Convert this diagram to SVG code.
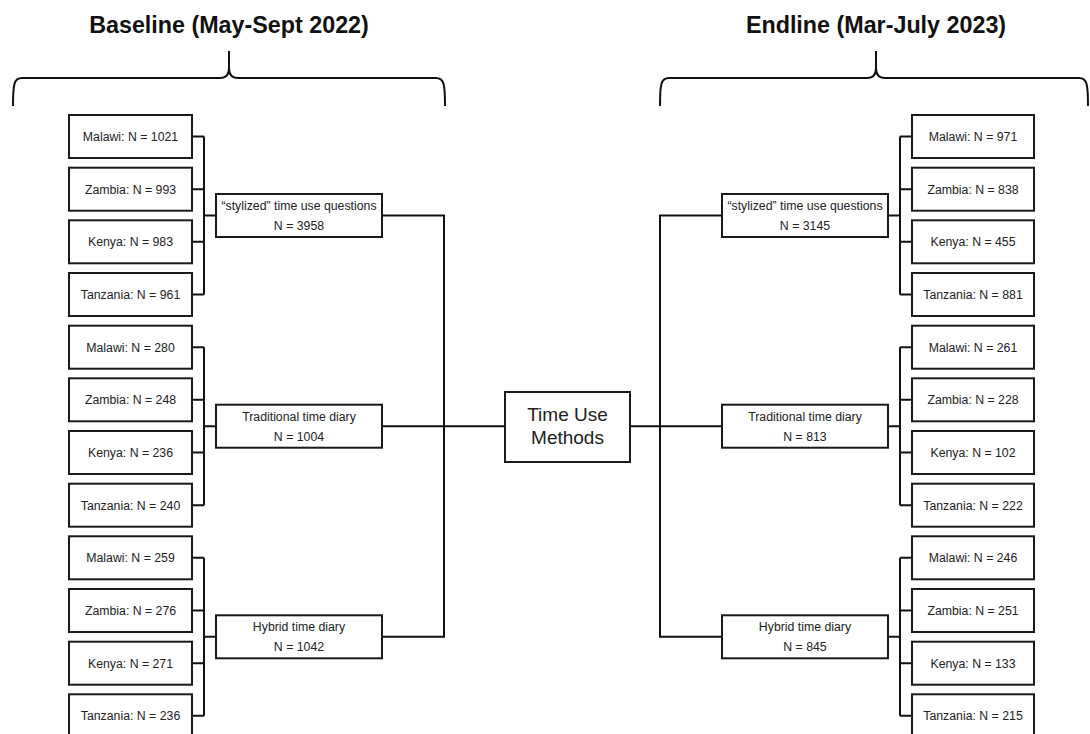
<svg xmlns="http://www.w3.org/2000/svg" width="1090" height="734" viewBox="0 0 1090 734">
<style>
.box{fill:#fff;stroke:#1a1a1a;stroke-width:2}
.ln{fill:none;stroke:#111;stroke-width:2}
.t{font-family:"Liberation Sans",Arial,sans-serif;font-size:12.3px;fill:#222;text-anchor:middle}
.c{font-family:"Liberation Sans",Arial,sans-serif;font-size:19px;fill:#222;text-anchor:middle}
.h{font-family:"Liberation Sans",Arial,sans-serif;font-size:23.3px;font-weight:bold;fill:#111;text-anchor:middle}
</style>
<rect width="1090" height="734" fill="#fff"/>
<g id="titles">
<text class="h" x="229" y="33">Baseline (May-Sept 2022)</text>
<text class="h" x="876" y="33">Endline (Mar-July 2023)</text>
<path class="ln" d="M13,106 C13,84 14,78 22,78 L220,78 C226,78 229,75 229,68 L229,51 M229,68 C229,75 232,78 238,78 L436,78 C444,78 445,84 445,106"/>
<path class="ln" d="M660,106 C660,84 661,78 669,78 L867,78 C873,78 876,75 876,68 L876,51 M876,68 C876,75 879,78 885,78 L1079,78 C1087,78 1088,84 1088,106"/>
</g>
<g id="connectors">
<path class="ln" d="M192,136.5 H204 M192,189.2 H204 M192,241.8 H204 M192,294.5 H204 M204,136.5 V294.5 M204,215.5 H216"/>
<path class="ln" d="M192,347.2 H204 M192,399.8 H204 M192,452.5 H204 M192,505.2 H204 M204,347.2 V505.2 M204,426.2 H216"/>
<path class="ln" d="M192,557.8 H204 M192,610.5 H204 M192,663.2 H204 M192,715.8 H204 M204,557.8 V715.8 M204,636.8 H216"/>
<path class="ln" d="M382,215.5 H444 V636.8 H382 M382,426.2 H505"/>
<path class="ln" d="M912,136.5 H900 M912,189.2 H900 M912,241.8 H900 M912,294.5 H900 M900,136.5 V294.5 M900,215.5 H888"/>
<path class="ln" d="M912,347.2 H900 M912,399.8 H900 M912,452.5 H900 M912,505.2 H900 M900,347.2 V505.2 M900,426.2 H888"/>
<path class="ln" d="M912,557.8 H900 M912,610.5 H900 M912,663.2 H900 M912,715.8 H900 M900,557.8 V715.8 M900,636.8 H888"/>
<path class="ln" d="M722,215.5 H660 V636.8 H722 M722,426.2 H630"/>
</g>
<g id="center"><rect class="box" x="505" y="392" width="125" height="70"/><text class="c" x="567.5" y="421">Time Use</text><text class="c" x="567.5" y="444">Methods</text></g>
<g id="b-stylized"><rect class="box" x="216" y="194" width="166" height="43"/><text class="t" x="299" y="210">“stylized” time use questions</text><text class="t" x="299" y="230">N = 3958</text></g>
<g id="b-traditional"><rect class="box" x="216" y="404.7" width="166" height="43"/><text class="t" x="299" y="420.7">Traditional time diary</text><text class="t" x="299" y="440.7">N = 1004</text></g>
<g id="b-hybrid"><rect class="box" x="216" y="615.3" width="166" height="43"/><text class="t" x="299" y="631.3">Hybrid time diary</text><text class="t" x="299" y="651.3">N = 1042</text></g>
<g id="e-stylized"><rect class="box" x="722" y="194" width="166" height="43"/><text class="t" x="805" y="210">“stylized” time use questions</text><text class="t" x="805" y="230">N = 3145</text></g>
<g id="e-traditional"><rect class="box" x="722" y="404.7" width="166" height="43"/><text class="t" x="805" y="420.7">Traditional time diary</text><text class="t" x="805" y="440.7">N = 813</text></g>
<g id="e-hybrid"><rect class="box" x="722" y="615.3" width="166" height="43"/><text class="t" x="805" y="631.3">Hybrid time diary</text><text class="t" x="805" y="651.3">N = 845</text></g>
<g id="b1"><rect class="box" x="69" y="115" width="123" height="43"/><text class="t" x="130.5" y="141">Malawi: N = 1021</text></g>
<g id="b2"><rect class="box" x="69" y="167.7" width="123" height="43"/><text class="t" x="130.5" y="193.7">Zambia: N = 993</text></g>
<g id="b3"><rect class="box" x="69" y="220.3" width="123" height="43"/><text class="t" x="130.5" y="246.3">Kenya: N = 983</text></g>
<g id="b4"><rect class="box" x="69" y="273" width="123" height="43"/><text class="t" x="130.5" y="299">Tanzania: N = 961</text></g>
<g id="b5"><rect class="box" x="69" y="325.7" width="123" height="43"/><text class="t" x="130.5" y="351.7">Malawi: N = 280</text></g>
<g id="b6"><rect class="box" x="69" y="378.3" width="123" height="43"/><text class="t" x="130.5" y="404.3">Zambia: N = 248</text></g>
<g id="b7"><rect class="box" x="69" y="431" width="123" height="43"/><text class="t" x="130.5" y="457">Kenya: N = 236</text></g>
<g id="b8"><rect class="box" x="69" y="483.7" width="123" height="43"/><text class="t" x="130.5" y="509.7">Tanzania: N = 240</text></g>
<g id="b9"><rect class="box" x="69" y="536.3" width="123" height="43"/><text class="t" x="130.5" y="562.3">Malawi: N = 259</text></g>
<g id="b10"><rect class="box" x="69" y="589" width="123" height="43"/><text class="t" x="130.5" y="615">Zambia: N = 276</text></g>
<g id="b11"><rect class="box" x="69" y="641.7" width="123" height="43"/><text class="t" x="130.5" y="667.7">Kenya: N = 271</text></g>
<g id="b12"><rect class="box" x="69" y="694.3" width="123" height="43"/><text class="t" x="130.5" y="720.3">Tanzania: N = 236</text></g>
<g id="e1"><rect class="box" x="912" y="115" width="122" height="43"/><text class="t" x="973" y="141">Malawi: N = 971</text></g>
<g id="e2"><rect class="box" x="912" y="167.7" width="122" height="43"/><text class="t" x="973" y="193.7">Zambia: N = 838</text></g>
<g id="e3"><rect class="box" x="912" y="220.3" width="122" height="43"/><text class="t" x="973" y="246.3">Kenya: N = 455</text></g>
<g id="e4"><rect class="box" x="912" y="273" width="122" height="43"/><text class="t" x="973" y="299">Tanzania: N = 881</text></g>
<g id="e5"><rect class="box" x="912" y="325.7" width="122" height="43"/><text class="t" x="973" y="351.7">Malawi: N = 261</text></g>
<g id="e6"><rect class="box" x="912" y="378.3" width="122" height="43"/><text class="t" x="973" y="404.3">Zambia: N = 228</text></g>
<g id="e7"><rect class="box" x="912" y="431" width="122" height="43"/><text class="t" x="973" y="457">Kenya: N = 102</text></g>
<g id="e8"><rect class="box" x="912" y="483.7" width="122" height="43"/><text class="t" x="973" y="509.7">Tanzania: N = 222</text></g>
<g id="e9"><rect class="box" x="912" y="536.3" width="122" height="43"/><text class="t" x="973" y="562.3">Malawi: N = 246</text></g>
<g id="e10"><rect class="box" x="912" y="589" width="122" height="43"/><text class="t" x="973" y="615">Zambia: N = 251</text></g>
<g id="e11"><rect class="box" x="912" y="641.7" width="122" height="43"/><text class="t" x="973" y="667.7">Kenya: N = 133</text></g>
<g id="e12"><rect class="box" x="912" y="694.3" width="122" height="43"/><text class="t" x="973" y="720.3">Tanzania: N = 215</text></g>
</svg>
